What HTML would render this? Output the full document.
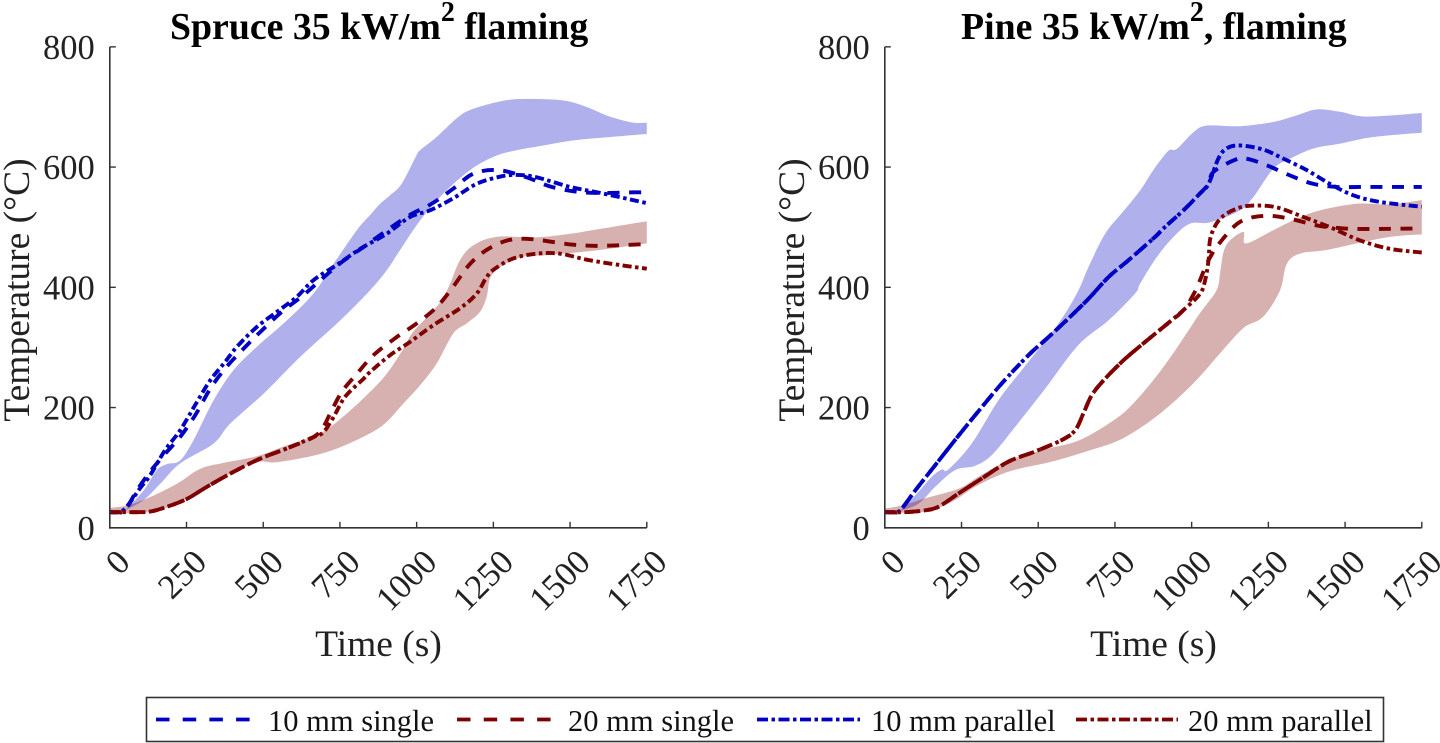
<!DOCTYPE html>
<html lang="en">
<head>
<meta charset="utf-8">
<title>Spruce and Pine 35 kW/m2 flaming temperature</title>
<style>
html,body{margin:0;padding:0;background:#fff;}
svg{display:block;}
text{font-family:"Liberation Serif",serif;fill:#222;}
.tick{font-size:34.5px;}
.axis-title{font-size:37.5px;}
.title{font-size:37.8px;font-weight:bold;fill:#000;}
.legend-text{font-size:30.5px;fill:#111;}
</style>
</head>
<body>
<svg id="chart" width="1440" height="743" viewBox="0 0 1440 743" xmlns="http://www.w3.org/2000/svg">
  <text class="title" x="170" y="39">Spruce 35 kW/m<tspan font-size="28" dy="-18">2</tspan><tspan dy="18"> flaming</tspan></text>
  <text class="title" x="961" y="39">Pine 35 kW/m<tspan font-size="28" dy="-18">2</tspan><tspan dy="18">, flaming</tspan></text>
  <g id="panels"></g>
  <g>
    <rect x="146.5" y="697.5" width="1237" height="44" fill="#fff" stroke="#333" stroke-width="1.6"/>
    <g>
      <line x1="156" x2="250" y1="719.5" y2="719.5" stroke="#0000c4" stroke-width="3.8" stroke-dasharray="13.5 13.2"/>
      <text class="legend-text" x="268" y="731">10 mm single</text>
    </g>
    <g>
      <line x1="457" x2="551" y1="719.5" y2="719.5" stroke="#7f0000" stroke-width="3.8" stroke-dasharray="13.5 13.2"/>
      <text class="legend-text" x="568" y="731">20 mm single</text>
    </g>
    <g>
      <line x1="757" x2="860" y1="719.5" y2="719.5" stroke="#0000c4" stroke-width="3.8" stroke-dasharray="11 3.5 3.5 3.5"/>
      <text class="legend-text" x="871" y="731">10 mm parallel</text>
    </g>
    <g>
      <line x1="1076" x2="1178" y1="719.5" y2="719.5" stroke="#7f0000" stroke-width="3.8" stroke-dasharray="11 3.5 3.5 3.5"/>
      <text class="legend-text" x="1188" y="731">20 mm parallel</text>
    </g>
  </g>
</svg>
<script>
const xTickLabels = [0, 250, 500, 750, 1000, 1250, 1500, 1750];
const yTickLabels = [0, 200, 400, 600, 800];

/* Spruce panel */
const spruceBlueBandUpperTime = [50,110,153,186,229,273,338,403,479,577,664,729,805,848,881,913,951,1000,1011,1065,1130,1174,1261,1326,1413,1489,1554,1630,1706,1750];
const spruceBlueBandUpperTemp = [29,62,96,106,112,146,212,262,301,345,390,439,495,520,539,553,572,620,628,650,681,695,708,713,713,710,700,684,674,674];
const spruceBlueBandLowerTime = [50,110,164,229,338,392,501,620,751,848,902,946,1011,1087,1174,1250,1315,1413,1521,1630,1750];
const spruceBlueBandLowerTemp = [29,46,73,107,140,173,223,284,345,395,428,462,511,556,595,617,627,636,645,650,655];
const spruceRedBandUpperTime = [0,55,131,218,294,370,479,560,685,772,848,902,957,984,1038,1081,1109,1141,1185,1261,1391,1500,1608,1750];
const spruceRedBandUpperTemp = [33,37,51,73,98,108,119,134,157,190,226,256,298,323,353,378,406,445,470,484,483,489,498,510];
const spruceRedBandLowerTime = [0,131,218,294,381,479,544,664,751,848,902,957,1011,1065,1119,1163,1206,1228,1241,1282,1348,1413,1500,1608,1750];
const spruceRedBandLowerTemp = [25,26,40,62,87,109,109,120,134,157,176,207,237,273,323,340,359,384,417,437,451,453,457,463,473];
const spruce10SingleTime = [0,25,50,88,131,180,229,278,327,376,436,495,560,631,691,756,827,848,967,1049,1119,1185,1266,1358,1434,1521,1608,1711,1750];
const spruce10SingleTemp = [26,26,29,62,93,123,151,187,231,265,298,328,359,387,414,442,467,475,517,539,564,589,595,583,568,559,557,558,558];
const spruce10ParallelTime = [0,25,50,99,131,180,229,278,327,376,414,479,544,609,664,745,816,902,978,1043,1119,1195,1271,1326,1391,1500,1608,1750];
const spruce10ParallelTemp = [26,26,32,66,87,129,162,204,245,276,301,334,359,384,412,439,464,489,517,528,548,572,584,587,583,567,556,540];
const spruce20SingleTime = [0,66,131,186,251,316,403,490,577,664,696,718,756,805,859,929,1000,1065,1119,1174,1234,1304,1380,1489,1576,1663,1750];
const spruce20SingleTemp = [26,26,27,35,48,68,93,115,132,151,168,190,226,256,287,315,340,367,401,439,464,479,480,472,469,470,472];
const spruce20ParallelTime = [0,66,131,186,251,316,403,490,577,664,696,729,767,827,848,913,978,1054,1141,1195,1228,1255,1315,1391,1467,1554,1663,1750];
const spruce20ParallelTemp = [26,26,27,35,48,68,93,115,132,151,159,184,218,248,259,287,309,337,365,389,417,431,448,456,456,446,437,431];

/* Pine panel */
const pineBlueBandUpperTime = [50,110,153,186,207,283,370,446,512,577,631,664,718,775,832,875,924,951,1006,1049,1158,1266,1342,1408,1484,1570,1750];
const pineBlueBandUpperTemp = [29,60,85,97,97,140,212,262,304,348,395,434,489,525,561,595,627,630,658,669,668,675,686,696,692,684,690];
const pineBlueBandLowerTime = [50,110,164,229,294,349,425,522,631,729,816,832,886,941,995,1060,1158,1201,1266,1321,1397,1484,1592,1750];
const pineBlueBandLowerTemp = [28,40,68,96,103,121,168,231,304,345,390,406,450,484,506,508,528,550,597,614,631,639,650,657];
const pineRedBandUpperTime = [0,55,131,240,305,381,436,533,636,755,821,897,962,1027,1081,1093,1104,1125,1169,1177,1266,1342,1418,1538,1647,1750];
const pineRedBandUpperTemp = [32,37,49,65,85,107,118,132,146,182,213,260,307,357,395,425,459,478,492,473,495,514,528,539,538,545];
const pineRedBandLowerTime = [0,131,218,294,370,436,544,669,777,897,1005,1092,1168,1233,1288,1310,1353,1440,1538,1647,1750];
const pineRedBandLowerTemp = [25,27,43,68,87,98,110,129,149,190,240,290,332,351,395,439,456,462,473,484,488];
const pine10SingleTime = [0,25,50,99,164,229,294,381,468,533,598,664,729,794,881,908,973,1027,1055,1071,1141,1179,1245,1321,1397,1473,1570,1750];
const pine10SingleTemp = [26,26,29,62,104,146,187,240,287,317,348,381,417,445,484,498,528,556,572,592,612,614,603,586,572,567,567,567];
const pine10ParallelTime = [0,25,50,99,164,229,294,381,468,533,598,664,729,794,881,908,973,1027,1055,1087,1114,1158,1234,1299,1375,1451,1527,1614,1750];
const pine10ParallelTemp = [26,26,29,62,104,146,187,240,287,317,348,381,417,445,484,498,528,556,572,614,631,636,629,614,595,572,553,542,534];
const pine20SingleTime = [0,66,131,175,240,316,403,490,577,620,647,675,718,783,848,908,973,1011,1025,1055,1093,1158,1239,1321,1408,1494,1592,1750];
const pine20SingleTemp = [26,26,29,35,57,82,110,127,146,162,190,221,248,281,309,334,362,393,409,445,475,509,519,514,503,498,497,498];
const pine20ParallelTime = [0,66,131,175,240,316,403,490,577,620,647,675,718,783,848,908,973,1027,1044,1055,1062,1093,1147,1201,1277,1364,1451,1549,1647,1750];
const pine20ParallelTemp = [26,26,29,35,57,82,110,127,146,162,190,221,248,281,309,334,362,389,412,445,484,514,531,536,533,517,500,478,464,458];

const NS = 'http://www.w3.org/2000/svg';
const BLUE = '#0000c4';
const RED = '#7f0000';
const DASHED = '12 9.5';
const DASHDOT = '9 3.5 3.5 3.5';
const root = document.getElementById('panels');

function make(parent, tag, attrs, text) {
  const el = document.createElementNS(NS, tag);
  for (const k in attrs) el.setAttribute(k, attrs[k]);
  if (text !== undefined) el.textContent = text;
  parent.appendChild(el);
  return el;
}

function smooth(pts, move) {
  let d = (move ? 'M' : 'L') + pts[0][0].toFixed(2) + ' ' + pts[0][1].toFixed(2);
  for (let i = 0; i < pts.length - 1; i++) {
    const p0 = pts[Math.max(i - 1, 0)], p1 = pts[i], p2 = pts[i + 1], p3 = pts[Math.min(i + 2, pts.length - 1)];
    const c1x = p1[0] + (p2[0] - p0[0]) / 6, c1y = p1[1] + (p2[1] - p0[1]) / 6;
    const c2x = p2[0] - (p3[0] - p1[0]) / 6, c2y = p2[1] - (p3[1] - p1[1]) / 6;
    d += 'C' + c1x.toFixed(2) + ' ' + c1y.toFixed(2) + ' ' + c2x.toFixed(2) + ' ' + c2y.toFixed(2) + ' ' + p2[0].toFixed(2) + ' ' + p2[1].toFixed(2);
  }
  return d;
}

function drawPanel(prefix, x0, yLabelX, bands, lines) {
  const sx = t => x0 + t * 0.30685;
  const sy = v => 527.8 - v * 0.6012;
  const toPts = (ts, vs) => ts.map((t, i) => [sx(t), sy(vs[i])]);
  const g = make(root, 'g', {});
  
  

  bands.forEach(b => {
    const up = toPts(b.upT, b.upV);
    const lo = toPts(b.loT, b.loV).reverse();
    const band = make(g, 'path', { d: smooth(up, true) + smooth(lo, false) + 'Z', fill: b.color, 'fill-opacity': 0.31 });
    
    
  });

  lines.forEach(l => {
    const line = make(g, 'path', { d: smooth(toPts(l.t, l.v), true), fill: 'none', stroke: l.color, 'stroke-width': 3.9, 'stroke-dasharray': l.dash });
    
    
  });

  const yAxis = make(g, 'line', { x1: x0, x2: x0, y1: sy(800), y2: sy(0) + 0.8, stroke: '#333', 'stroke-width': 1.6 });
  
  
  const xAxis = make(g, 'line', { x1: x0 - 0.8, x2: sx(1750), y1: sy(0), y2: sy(0), stroke: '#333', 'stroke-width': 1.6 });
  
  

  yTickLabels.forEach(v => {
    const tick = make(g, 'line', { x1: x0, x2: x0 + 6, y1: sy(v), y2: sy(v), stroke: '#333', 'stroke-width': 1.4 });
    
    
    const label = make(g, 'text', { class: 'tick', x: x0 - 15, y: sy(v) + 12, 'text-anchor': 'end' }, String(v));
    
    
  });

  xTickLabels.forEach(t => {
    const tick = make(g, 'line', { x1: sx(t), x2: sx(t), y1: sy(0), y2: sy(0) - 6, stroke: '#333', 'stroke-width': 1.4 });
    
    
    const ax = sx(t) + 22, ay = 564;
    const label = make(g, 'text', { class: 'tick', x: ax, y: ay, 'text-anchor': 'end', transform: 'rotate(-45 ' + ax + ' ' + ay + ')' }, String(t));
    
    
  });

  const xt = make(g, 'text', { class: 'axis-title', x: x0 + 268.7, y: 656, 'text-anchor': 'middle' }, 'Time (s)');
  
  
  const yt = make(g, 'text', { class: 'axis-title', x: yLabelX, y: 290, 'text-anchor': 'middle', transform: 'rotate(-90 ' + yLabelX + ' 290)' }, 'Temperature (\u00B0C)');
  
  
}

drawPanel('spruce', 109.8, 29, [
  { name: 'blue', color: '#0000c4', upT: spruceBlueBandUpperTime, upV: spruceBlueBandUpperTemp, loT: spruceBlueBandLowerTime, loV: spruceBlueBandLowerTemp },
  { name: 'red', color: '#7f0000', upT: spruceRedBandUpperTime, upV: spruceRedBandUpperTemp, loT: spruceRedBandLowerTime, loV: spruceRedBandLowerTemp }
], [
  { name: '10mm-single', color: BLUE, dash: DASHED, t: spruce10SingleTime, v: spruce10SingleTemp },
  { name: '10mm-parallel', color: BLUE, dash: DASHDOT, t: spruce10ParallelTime, v: spruce10ParallelTemp },
  { name: '20mm-single', color: RED, dash: DASHED, t: spruce20SingleTime, v: spruce20SingleTemp },
  { name: '20mm-parallel', color: RED, dash: DASHDOT, t: spruce20ParallelTime, v: spruce20ParallelTemp }
]);

drawPanel('pine', 884.8, 804, [
  { name: 'blue', color: '#0000c4', upT: pineBlueBandUpperTime, upV: pineBlueBandUpperTemp, loT: pineBlueBandLowerTime, loV: pineBlueBandLowerTemp },
  { name: 'red', color: '#7f0000', upT: pineRedBandUpperTime, upV: pineRedBandUpperTemp, loT: pineRedBandLowerTime, loV: pineRedBandLowerTemp }
], [
  { name: '10mm-single', color: BLUE, dash: DASHED, t: pine10SingleTime, v: pine10SingleTemp },
  { name: '10mm-parallel', color: BLUE, dash: DASHDOT, t: pine10ParallelTime, v: pine10ParallelTemp },
  { name: '20mm-single', color: RED, dash: DASHED, t: pine20SingleTime, v: pine20SingleTemp },
  { name: '20mm-parallel', color: RED, dash: DASHDOT, t: pine20ParallelTime, v: pine20ParallelTemp }
]);
</script>
</body>
</html>
